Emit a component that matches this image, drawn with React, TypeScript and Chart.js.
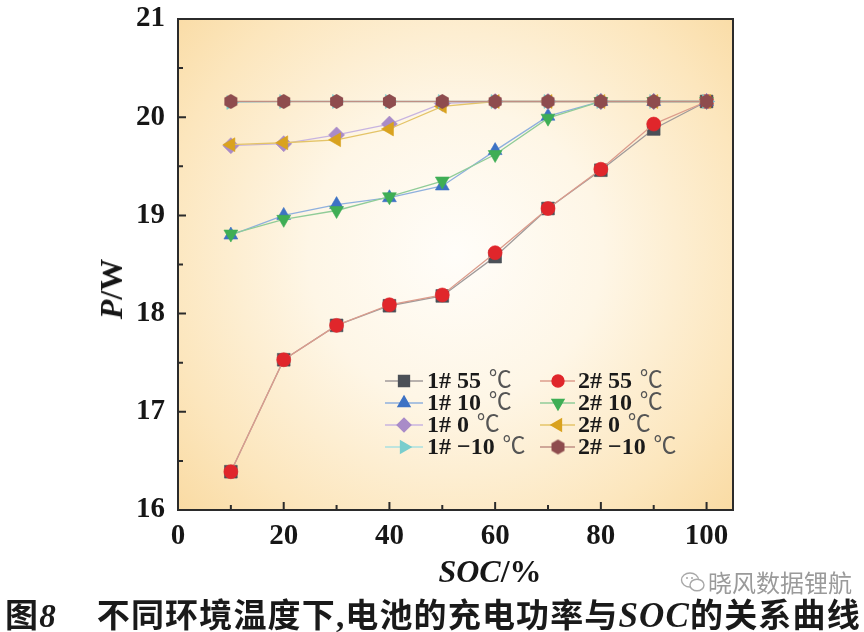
import React, { useEffect, useRef } from 'react';
import { Chart, registerables } from 'chart.js';
import { drawPoint } from 'chart.js/helpers';

Chart.register(...registerables);

// ---------- data ----------
const socValues = [10, 20, 30, 40, 50, 60, 70, 80, 90, 100];
const xTickValues = [0, 20, 40, 60, 80, 100];
const yTickValues = [16, 17, 18, 19, 20, 21];

const p1_55 = [16.39, 17.53, 17.88, 18.08, 18.18, 18.58, 19.07, 19.46, 19.88, 20.16];
const p2_55 = [16.39, 17.53, 17.88, 18.09, 18.19, 18.62, 19.07, 19.47, 19.93, 20.16];
const p1_10 = [18.80, 19.00, 19.11, 19.18, 19.30, 19.66, 20.01, 20.16, 20.16, 20.16];
const p2_10 = [18.81, 18.96, 19.05, 19.19, 19.35, 19.62, 19.99, 20.16, 20.16, 20.16];
const p1_0 = [19.71, 19.73, 19.82, 19.93, 20.14, 20.16, 20.16, 20.16, 20.16, 20.16];
const p2_0 = [19.72, 19.74, 19.77, 19.88, 20.11, 20.16, 20.16, 20.16, 20.16, 20.16];
const p1_m10 = [20.15, 20.16, 20.16, 20.16, 20.16, 20.16, 20.16, 20.16, 20.16, 20.16];
const p2_m10 = [20.16, 20.16, 20.16, 20.16, 20.16, 20.16, 20.16, 20.16, 20.16, 20.16];

const seriesBold = ['1# 55', '2# 55', '1# 10', '2# 10', '1# 0', '2# 0', '1# \u221210', '2# \u221210'];
const seriesUnit = '\u2103';
const seriesValues = [p1_55, p2_55, p1_10, p2_10, p1_0, p2_0, p1_m10, p2_m10];

const markerColors = ['#4b5057', '#e0262b', '#3d72c4', '#3fae55', '#a98bc8', '#d9a21f', '#79cdcd', '#8e4c4e'];
const lineColors = ['#a09a9a', '#dc9c8c', '#8fb0de', '#90cc98', '#c8b4e0', '#e4c468', '#a8e0e0', '#bf8f84'];

function makeHexagon(color: string, r: number): HTMLCanvasElement {
  const c = document.createElement('canvas');
  const s = Math.ceil(2 * r + 2);
  c.width = s;
  c.height = s;
  const g = c.getContext('2d')!;
  g.fillStyle = color;
  g.beginPath();
  for (let k = 0; k < 6; k++) {
    const a = -Math.PI / 2 + (k * Math.PI) / 3;
    const px = s / 2 + r * Math.cos(a);
    const py = s / 2 + r * Math.sin(a);
    if (k === 0) g.moveTo(px, py);
    else g.lineTo(px, py);
  }
  g.closePath();
  g.fill();
  return c;
}

export default function App() {
  const ref = useRef<HTMLCanvasElement | null>(null);

  useEffect(() => {
    if (!ref.current) return;
    const hex = makeHexagon(markerColors[7], 7.5);
    const styles: any[] = ['rect', 'circle', 'triangle', 'triangle', 'rectRot', 'triangle', 'triangle', hex];
    const rotations = [0, 0, 0, 180, 0, 270, 90, 0];
    const radii = [9, 7, 8, 8, 8, 8, 8, 7.5];

    const datasets = seriesValues.map((vals, i) => ({
      label: seriesBold[i] + ' ' + seriesUnit,
      data: socValues.map((x, j) => ({ x, y: vals[j] })),
      borderColor: lineColors[i],
      backgroundColor: markerColors[i],
      borderWidth: 1.3,
      pointStyle: styles[i],
      pointRotation: rotations[i],
      pointRadius: radii[i],
      pointBorderWidth: 0.6,
      pointBorderColor: markerColors[i],
      pointBackgroundColor: markerColors[i],
      order: 8 - i,
      tension: 0,
    }));

    const bgPlugin = {
      id: 'bgGrad',
      beforeDraw(chart: any) {
        const { ctx, chartArea: a } = chart;
        const cx = a.left + (a.right - a.left) * 0.5;
        const cy = a.top + (a.bottom - a.top) * 0.48;
        const g = ctx.createRadialGradient(cx, cy, 0, cx, cy, 420);
        g.addColorStop(0, '#fffdf9');
        g.addColorStop(0.35, '#fef6e6');
        g.addColorStop(0.7, '#fce6bd');
        g.addColorStop(1, '#f8d596');
        ctx.save();
        ctx.fillStyle = g;
        ctx.fillRect(a.left, a.top, a.right - a.left, a.bottom - a.top);
        ctx.restore();
      },
    };

    const framePlugin = {
      id: 'frameTicks',
      afterDraw(chart: any) {
        const { ctx, chartArea: a, scales } = chart;
        const xs = scales.x;
        const ys = scales.y;
        ctx.save();
        ctx.strokeStyle = '#2b2b2b';
        ctx.lineWidth = 2;
        ctx.strokeRect(a.left, a.top, a.right - a.left, a.bottom - a.top);
        ctx.beginPath();
        for (let v = 10; v <= 100; v += 10) {
          const px = xs.getPixelForValue(v);
          const len = v % 20 === 0 ? 8 : 5;
          ctx.moveTo(px, a.bottom);
          ctx.lineTo(px, a.bottom - len);
        }
        for (let v = 16.5; v < 21; v += 0.5) {
          const py = ys.getPixelForValue(v);
          const len = Math.abs(v - Math.round(v)) < 0.01 ? 8 : 5;
          ctx.moveTo(a.left, py);
          ctx.lineTo(a.left + len, py);
        }
        ctx.stroke();

        // legend
        const colLine = [[385, 423], [540, 575]];
        const colMarker = [404, 558];
        const colText = [427, 578];
        const rowY = [381, 403, 425, 447];
        seriesBold.forEach((name, i) => {
          const col = i % 2;
          const row = Math.floor(i / 2);
          const y = rowY[row];
          ctx.strokeStyle = lineColors[i];
          ctx.lineWidth = 1.5;
          ctx.beginPath();
          ctx.moveTo(colLine[col][0], y);
          ctx.lineTo(colLine[col][1], y);
          ctx.stroke();
          ctx.fillStyle = markerColors[i];
          ctx.strokeStyle = markerColors[i];
          drawPoint(ctx, { pointStyle: styles[i], radius: radii[i] * 0.85, rotation: rotations[i], borderWidth: 0.6 } as any, colMarker[col], y);
          ctx.textBaseline = 'middle';
          ctx.textAlign = 'left';
          ctx.fillStyle = '#1a1a1a';
          ctx.font = 'bold 24px "Liberation Serif", serif';
          ctx.fillText(name, colText[col], y + 1);
          const w = ctx.measureText(name).width;
          ctx.fillStyle = '#555';
          ctx.font = '23px "Liberation Serif", "Noto Sans CJK SC", serif';
          ctx.fillText(' ' + seriesUnit, colText[col] + w + 2, y);
        });
        ctx.restore();
      },
    };

    const tickFont = { family: '"Liberation Serif", serif', size: 29, weight: 'bold' as const };

    const chart = new Chart(ref.current, {
      type: 'line',
      data: { datasets: datasets as any },
      options: {
        animation: false,
        responsive: false,
        maintainAspectRatio: false,
        layout: { padding: { top: 19, right: 131, left: 0, bottom: 0 } },
        plugins: { legend: { display: false }, tooltip: { enabled: false } },
        scales: {
          x: {
            type: 'linear',
            min: 0,
            max: 105,
            afterBuildTicks: (s: any) => {
              s.ticks = xTickValues.map((v) => ({ value: v }));
            },
            afterFit: (s: any) => {
              s.height = 50;
              s.paddingLeft = 0;
              s.paddingRight = 0;
            },
            grid: { display: false, drawTicks: false },
            border: { display: false },
            ticks: { font: tickFont, color: '#161616', padding: 9, maxRotation: 0, autoSkip: false },
          },
          y: {
            type: 'linear',
            min: 16,
            max: 21,
            afterBuildTicks: (s: any) => {
              s.ticks = yTickValues.map((v) => ({ value: v }));
            },
            afterFit: (s: any) => {
              s.width = 178;
              s.paddingTop = 0;
              s.paddingBottom = 0;
            },
            grid: { display: false, drawTicks: false },
            border: { display: false },
            ticks: { font: tickFont, color: '#161616', padding: 13, autoSkip: false },
          },
        },
      },
      plugins: [bgPlugin, framePlugin],
    });
    return () => chart.destroy();
  }, []);

  const serif = '"Liberation Serif", serif';
  return (
    <div style={{ position: 'fixed', left: 0, top: 0, width: 864, height: 632, background: '#fff', overflow: 'hidden' }}>
      <canvas ref={ref} width={864} height={560} style={{ position: 'absolute', left: 0, top: 0, width: 864, height: 560 }} />
      <div
        style={{
          position: 'absolute',
          left: 490,
          top: 571,
          transform: 'translate(-50%, -50%)',
          fontFamily: serif,
          fontWeight: 'bold',
          fontSize: 32,
          color: '#161616',
          whiteSpace: 'nowrap',
          lineHeight: 1,
        }}
      >
        <span style={{ fontStyle: 'italic' }}>SOC</span>/%
      </div>
      <div
        style={{
          position: 'absolute',
          left: 111,
          top: 289,
          transform: 'translate(-50%, -50%) rotate(-90deg)',
          fontFamily: serif,
          fontWeight: 'bold',
          fontSize: 32,
          color: '#161616',
          whiteSpace: 'nowrap',
          lineHeight: 1,
        }}
      >
        <span style={{ fontStyle: 'italic' }}>P</span>/W
      </div>
      <div
        style={{
          position: 'absolute',
          left: 680,
          top: 570,
          display: 'flex',
          alignItems: 'center',
          color: '#9a9a9a',
          fontFamily: '"Noto Sans CJK SC", sans-serif',
          fontSize: 24,
          whiteSpace: 'nowrap',
          lineHeight: 1,
        }}
      >
        <svg width="26" height="24" viewBox="0 0 26 24" style={{ marginRight: 2 }}>
          <ellipse cx="10" cy="10" rx="8.5" ry="7" fill="none" stroke="#a8a8a8" strokeWidth="1.4" />
          <ellipse cx="17" cy="15" rx="7" ry="5.8" fill="#fff" stroke="#a8a8a8" strokeWidth="1.4" />
          <circle cx="7" cy="8" r="1" fill="#a8a8a8" />
          <circle cx="12" cy="8" r="1" fill="#a8a8a8" />
        </svg>
        <span>晓风数据锂航</span>
      </div>
      <div
        style={{
          position: 'absolute',
          left: 5,
          top: 597,
          display: 'flex',
          alignItems: 'baseline',
          color: '#1a1a1a',
          fontFamily: '"Noto Sans CJK SC", sans-serif',
          fontWeight: 700,
          fontSize: 33,
          letterSpacing: 1.15,
          whiteSpace: 'nowrap',
          lineHeight: 1,
        }}
      >
        <span>图</span>
        <span style={{ fontFamily: serif, fontStyle: 'italic', fontWeight: 'bold', marginRight: 40 }}>8</span>
        <span>不同环境温度下</span>
        <span style={{ fontFamily: serif, fontWeight: 'bold' }}>,</span>
        <span>电池的充电功率与</span>
        <span style={{ fontFamily: serif, fontStyle: 'italic', fontWeight: 'bold', fontSize: 35 }}>SOC</span>
        <span>的关系曲线</span>
      </div>
    </div>
  );
}
